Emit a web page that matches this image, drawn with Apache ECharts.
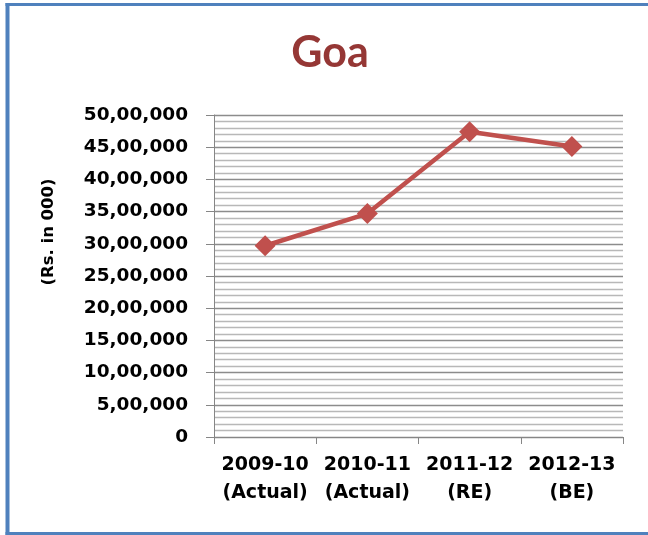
<!DOCTYPE html>
<html>
<head>
<meta charset="utf-8">
<script src="https://cdn.jsdelivr.net/npm/echarts@6/dist/echarts.min.js"></script>
<style>
html,body{margin:0;padding:0;background:#fff;overflow:hidden;}
#chart{width:648px;height:535px;}
</style>
</head>
<body>
<div id="chart"></div>
<script>
var categories = ['2009-10\n(Actual)', '2010-11\n(Actual)', '2011-12\n(RE)', '2012-13\n(BE)'];
var values = [2970000, 3470000, 4740000, 4510000];
var yTickMax = 5000000;
var yTickStep = 500000;
var chartTitle = 'Goa';
var yName = '(Rs. in 000)';

function indianFormat(v) {
  var s = String(Math.round(v));
  if (s.length <= 3) return s;
  var last3 = s.slice(-3);
  var rest = s.slice(0, -3);
  var parts = [];
  while (rest.length > 2) { parts.unshift(rest.slice(-2)); rest = rest.slice(0, -2); }
  if (rest.length) parts.unshift(rest);
  return parts.join(',') + ',' + last3;
}

var chart = echarts.init(document.getElementById('chart'));
var axisFont = 'DejaVu Sans';
chart.setOption({
  animation: false,
  backgroundColor: '#fff',
  graphic: [
    { type: 'line', shape: { x1: 5.5, y1: 4.5, x2: 648, y2: 4.5 },
      style: { stroke: '#4F81BD', lineWidth: 3 }, silent: true },
    { type: 'line', shape: { x1: 7.5, y1: 3, x2: 7.5, y2: 535 },
      style: { stroke: '#4F81BD', lineWidth: 4 }, silent: true },
    { type: 'line', shape: { x1: 5.5, y1: 533.5, x2: 648, y2: 533.5 },
      style: { stroke: '#4F81BD', lineWidth: 3 }, silent: true },
    { type: 'text', x: 330, y: 53, style: { text: chartTitle, fill: '#953735',
      font: 'bold 43px Lato', textAlign: 'center', textVerticalAlign: 'middle' } },
    { type: 'text', x: 49, y: 232, rotation: Math.PI / 2, style: { text: yName, fill: '#000',
      font: 'bold 16.5px "DejaVu Sans"', textAlign: 'center', textVerticalAlign: 'middle' } }
  ],
  grid: { left: 214, right: 25, top: 115, bottom: 98, containLabel: false },
  xAxis: {
    type: 'category',
    data: categories,
    boundaryGap: true,
    axisLine: { lineStyle: { color: '#868686', width: 1 } },
    axisTick: { show: true, length: 7, lineStyle: { color: '#868686' } },
    axisLabel: { color: '#000', fontFamily: axisFont, fontWeight: 'bold', fontSize: 19,
      lineHeight: 28, margin: 14, interval: 0 },
    splitLine: { show: false }
  },
  yAxis: {
    type: 'value',
    min: 0, max: yTickMax, interval: yTickStep,
    axisLine: { show: true, lineStyle: { color: '#868686', width: 1 } },
    axisTick: { show: true, length: 8, lineStyle: { color: '#868686' } },
    axisLabel: { color: '#000', fontFamily: axisFont, fontWeight: 'bold', fontSize: 18.5,
      margin: 26, formatter: indianFormat },
    splitLine: { show: true, lineStyle: { color: '#8c8c8c', width: 1.4 } },
    minorTick: { show: false, splitNumber: 5 },
    minorSplitLine: { show: true, lineStyle: { color: '#b8b8b8', width: 1.4 } }
  },
  series: [{
    type: 'line',
    data: values,
    symbol: 'diamond',
    symbolSize: 21,
    lineStyle: { color: '#C0504D', width: 4.5 },
    itemStyle: { color: '#C0504D' },
    z: 5
  }]
});
</script>
</body>
</html>
